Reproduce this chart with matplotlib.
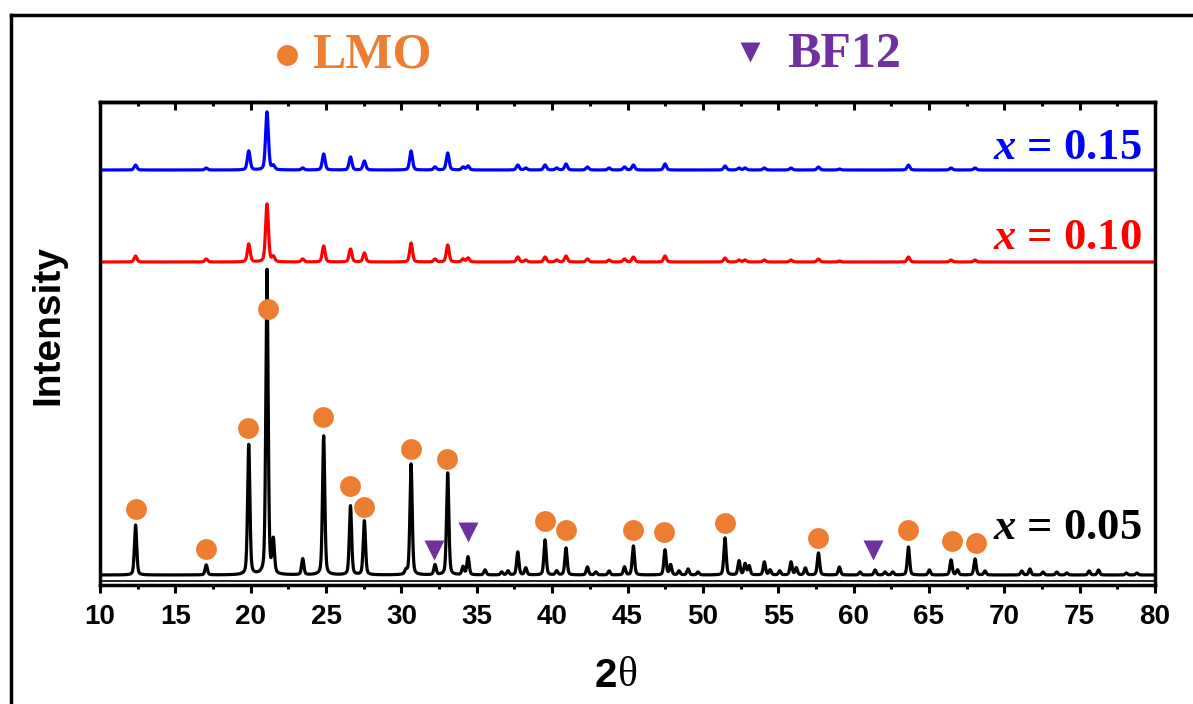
import numpy as np
import matplotlib
matplotlib.use('Agg')
import matplotlib.pyplot as plt
from matplotlib.lines import Line2D

plt.rcParams['mathtext.fontset'] = 'custom'
plt.rcParams['mathtext.it'] = 'Liberation Serif:italic:bold'
plt.rcParams['mathtext.rm'] = 'Liberation Serif:bold'

# black trace (x = 0.05): peak angles and heights
peaks_005 = [12.36, 17.05, 19.87, 21.08, 21.50, 23.45, 24.84, 26.62, 27.54, 30.30,
             30.64, 32.23, 33.07, 34.09, 34.42, 35.55, 36.65, 37.07, 37.72, 38.25,
             39.53, 40.30, 40.92, 42.34, 42.90, 43.78, 44.80, 45.39, 47.49, 47.86,
             48.42, 49.02, 49.68, 51.47, 52.40, 52.80, 53.07, 54.08, 54.46, 55.10,
             55.85, 56.20, 56.80, 57.67, 59.06, 60.43, 61.43, 62.09, 62.60, 63.64,
             65.03, 66.47, 66.90, 68.06, 68.72, 71.16, 71.70, 72.57, 73.48, 74.15,
             75.63, 76.25, 78.10, 78.80]
heights_005 = [50, 10, 130, 305, 33, 16, 139, 69, 54, 4,
               111, 10, 102, 8, 18, 5, 3, 4, 23, 7,
               35, 4, 27, 8, 3, 4, 8, 29, 25, 10,
               4, 6, 3, 37, 14, 11, 9, 13, 5, 4,
               13, 7, 7, 22, 8, 3, 5, 3, 3, 28,
               5, 15, 5, 16, 4, 4, 6, 3, 3, 2,
               4, 5, 2, 2]

# red (x = 0.10) and blue (x = 0.15) traces
peaks_hi = [12.36, 17.05, 19.87, 21.08, 21.50, 23.45, 24.84, 26.62, 27.54, 30.64,
            32.23, 33.07, 34.09, 34.42, 37.72, 38.25, 39.53, 40.30, 40.92, 42.34,
            43.78, 44.80, 45.39, 47.49, 51.47, 52.40, 52.80, 54.08, 55.85, 57.67,
            59.06, 63.64, 66.47, 68.06]
heights_010 = [6, 3, 18, 58, 5, 3, 16, 13, 9, 19, 3, 17, 3, 4, 5, 2, 5, 2, 6, 3,
               2, 3, 5, 6, 4, 2, 2, 2, 2, 3, 1, 5, 2, 2]
heights_015 = [5, 2, 19, 58, 4, 2, 16, 13, 9, 19, 3, 17, 3, 4, 5, 2, 5, 2, 6, 3,
               2, 3, 5, 6, 4, 2, 2, 2, 2, 3, 1, 5, 2, 2]

offsets = {'0.05': 10, '0.10': 323, '0.15': 415}

# phase markers
lmo_angles = [12.36, 17.03, 19.80, 21.15, 24.82, 26.59, 27.54, 30.62, 33.05,
              39.53, 40.92, 45.39, 47.43, 51.47, 57.67, 63.59, 66.51, 68.11]
lmo_y = [76, 36, 157, 276, 168, 99, 78, 136, 126, 64, 55, 55, 53, 62, 47, 55, 44, 42]
bf12_angles = [32.18, 34.44, 61.31]
bf12_y = [35.5, 53, 35]

c_lmo = '#ED7D31'
c_bf = '#7030A0'

two_theta = np.linspace(10, 80, 7001)


def profile(pos, hts, fwhm=0.18):
    y = np.zeros_like(two_theta)
    g = fwhm / 2.3548
    for p, h in zip(pos, hts):
        d = two_theta - p
        y += h * (0.65 * np.exp(-d**2 / (2 * g**2)) + 0.35 / (1 + (2 * d / fwhm)**2))
    return y


fig = plt.figure(figsize=(11.93, 7.04), dpi=100)
ax = fig.add_axes([100/1193, 1-585/704, 1055/1193, 483/704])

ax.plot(two_theta, profile(peaks_005, heights_005) + offsets['0.05'], color='black', lw=2.3)
ax.plot(two_theta, profile(peaks_hi, heights_010, 0.22) + offsets['0.10'], color='#FF0000', lw=2.3)
ax.plot(two_theta, profile(peaks_hi, heights_015, 0.22) + offsets['0.15'], color='#0000FF', lw=2.3)
ax.axhline(4.5, color='black', lw=1.2)

ax.plot(lmo_angles, lmo_y, 'o', color=c_lmo, ms=15, mec='none', zorder=5)
ax.plot(bf12_angles, bf12_y, 'v', color=c_bf, ms=15, mec='none', zorder=5)

ax.set_xlim(10, 80)
ax.set_ylim(0, 483)
ax.set_yticks([])
ax.set_xticks(np.arange(10, 81, 5))
ax.set_xticks(np.arange(12.5, 80, 5), minor=True)
ax.tick_params(axis='x', which='major', direction='out', length=6, width=2.2, pad=8)
ax.tick_params(axis='x', which='minor', direction='out', length=3, width=2.2)
for lab in ax.get_xticklabels():
    lab.set_fontfamily('Liberation Sans')
    lab.set_fontweight('bold')
    lab.set_fontsize(20)
for s in ax.spines.values():
    s.set_linewidth(2.5)

# top ticks pointing inwards
top = ax.secondary_xaxis('top')
top.set_xticks(np.arange(10, 81, 5))
top.set_xticks(np.arange(12.5, 80, 5), minor=True)
top.tick_params(axis='x', which='major', direction='in', length=6, width=2.2, labeltop=False)
top.tick_params(axis='x', which='minor', direction='in', length=3, width=2.2)
top.spines['top'].set_linewidth(2.5)

ax.text(0.987, (585-148)/483, '$x$ = 0.15', transform=ax.transAxes, ha='right', va='center',
        color='#0000FF', fontsize=32, family='Liberation Serif', weight='bold')
ax.text(0.987, (585-238)/483, '$x$ = 0.10', transform=ax.transAxes, ha='right', va='center',
        color='#FF0000', fontsize=32, family='Liberation Serif', weight='bold')
ax.text(0.987, (585-528)/483, '$x$ = 0.05', transform=ax.transAxes, ha='right', va='center',
        color='black', fontsize=32, family='Liberation Serif', weight='bold')

# axis labels
fig.text(48/1193, 1-325/704, 'Intensity', rotation=90, ha='center', va='center',
         fontsize=28, family='Liberation Sans', weight='bold')
fig.text(617/1193, 1-676/704, '2', ha='right', va='center',
         fontsize=29, family='Liberation Sans', weight='bold')
fig.text(618/1193, 1-676/704, 'θ', ha='left', va='center',
         fontsize=30, family='Liberation Serif')

# phase legend on top
fig.add_artist(Line2D([287/1193], [1-55/704], marker='o', color=c_lmo, ms=15, mec='none'))
fig.text(312/1193, 1-55/704, 'LMO', ha='left', va='center', color=c_lmo,
         fontsize=36, family='Liberation Serif', weight='bold')
fig.add_artist(Line2D([750/1193], [1-52/704], marker='v', color=c_bf, ms=15, mec='none'))
fig.text(787/1193, 1-55/704, 'BF12', ha='left', va='center', color=c_bf,
         fontsize=36, family='Liberation Serif', weight='bold')

# outer frame
fig.add_artist(Line2D([11/1193, 11/1193], [0, 1-15/704], color='black', lw=2.5))
fig.add_artist(Line2D([11/1193, 1], [1-15/704, 1-15/704], color='black', lw=2.5))

fig.savefig('out.png', dpi=100)
